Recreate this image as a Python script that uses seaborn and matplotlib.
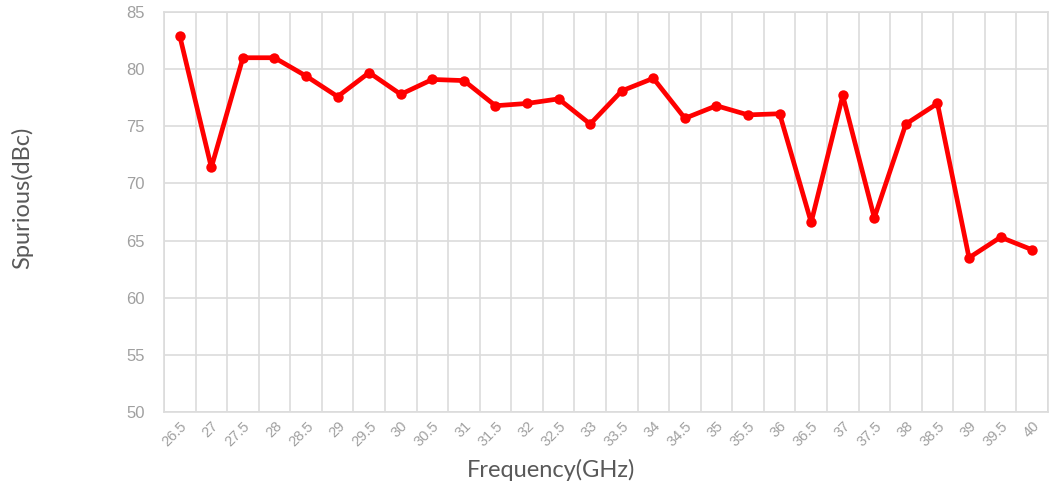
import numpy as np
import pandas as pd
import matplotlib
matplotlib.use("Agg")
import matplotlib.pyplot as plt
import seaborn as sns

freqs = ["26.5", "27", "27.5", "28", "28.5", "29", "29.5", "30", "30.5", "31",
         "31.5", "32", "32.5", "33", "33.5", "34", "34.5", "35", "35.5", "36",
         "36.5", "37", "37.5", "38", "38.5", "39", "39.5", "40"]
spurious = [82.9, 71.4, 81.0, 81.0, 79.4, 77.6, 79.7, 77.8, 79.1, 79.0,
            76.8, 77.0, 77.4, 75.2, 78.1, 79.2, 75.7, 76.8, 76.0, 76.1,
            66.6, 77.7, 67.0, 75.2, 77.0, 63.5, 65.3, 64.2]
yticks = [50, 55, 60, 65, 70, 75, 80, 85]

df = pd.DataFrame({"freq": freqs, "spur": spurious})

sns.set_style("white")
plt.rcParams['font.family'] = ['Liberation Sans', 'DejaVu Sans']

fig = plt.figure(figsize=(10.58, 4.9), dpi=100)
ax = fig.add_axes([0.155, 0.159, 0.8355, 0.8165])

sns.lineplot(data=df, x="freq", y="spur", ax=ax, color="#ff0000",
             linewidth=3.4, marker="o", markersize=7.5, markeredgewidth=0,
             sort=False)

n = len(freqs)
ax.set_xlim(-0.5, n - 0.5)
ax.set_ylim(50, 85)
ax.set_yticks(yticks)
ax.set_xticks(range(n))
ax.set_xticklabels(freqs, rotation=45, ha="right", rotation_mode="anchor",
                   fontsize=10.5, color="#a0a0a0", family=["Liberation Sans"])
ax.set_yticklabels([str(v) for v in yticks], family=["Liberation Sans"])
ax.set_xticks(np.arange(-0.5, n, 1.0), minor=True)
ax.tick_params(axis="y", labelsize=12, labelcolor="#a0a0a0", length=0, pad=14)
ax.tick_params(axis="x", which="both", length=0, pad=5)
ax.grid(False)
ax.grid(axis="x", which="minor", color="#dcdcdc", linewidth=1.2)
ax.grid(axis="y", which="major", color="#dcdcdc", linewidth=1.2)
ax.set_axisbelow(True)
for s in ax.spines.values():
    s.set_color("#dcdcdc")
    s.set_linewidth(1.2)

ax.set_xlabel("")
ax.set_ylabel("")
fig.text(0.521, 0.041, "Frequency(GHz)", fontsize=17, color="#595959",
         ha="center", va="center", family=["Lato", "DejaVu Sans"])
fig.text(0.021, 0.596, "Spurious(dBc)", rotation=90, fontsize=17,
         color="#595959", ha="center", va="center", family=["Lato", "DejaVu Sans"])

fig.savefig("out.png", dpi=100)
